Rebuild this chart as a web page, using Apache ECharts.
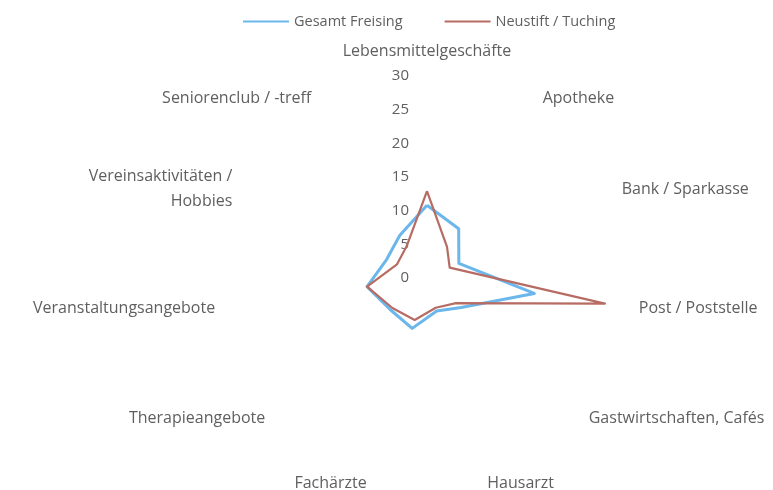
<!DOCTYPE html>
<html>
<head>
<meta charset="utf-8">
<script src="https://cdn.jsdelivr.net/npm/echarts@6/dist/echarts.min.js"></script>
<style>
  html, body { margin: 0; padding: 0; background: #fff; }
  #chart { width: 773px; height: 490px; }
</style>
</head>
<body>
<div id="chart"></div>
<script>
// Kategorien (im Uhrzeigersinn ab oben)
const categories = [
  'Lebensmittelgeschäfte',
  'Apotheke',
  'Bank / Sparkasse',
  'Post / Poststelle',
  'Gastwirtschaften, Cafés',
  'Hausarzt',
  'Fachärzte',
  'Therapieangebote',
  'Veranstaltungsangebote',
  'Vereinsaktivitäten /\nHobbies',
  'Seniorenclub / -treff'
]

// Werte
const gesamtFreising = [10.8, 8.7, 5.2, 16.1, 6.7, 5.1, 7.8, 7.2, 9.0, 6.6, 7.5]
const neustiftTuching = [12.9, 5.5, 3.7, 26.7, 5.7, 4.6, 6.5, 6.8, 9.0, 4.9, 5.6]

const axisMax = 30
const axisSplit = 6

const textColor = '#5f5f5f'
const fontFamily = '"Open Sans", sans-serif'

// ECharts zeichnet Radar gegen den Uhrzeigersinn -> Reihenfolge umdrehen (erste bleibt oben)
const clockwise = arr => [arr[0]].concat(arr.slice(1).reverse())

const chart = echarts.init(document.getElementById('chart'), null, { renderer: 'canvas' })

// nur die erste Achse beschriften
const indicators = clockwise(categories).map((name, i) => {
  const ind = { name: name, min: 0, max: axisMax }
  if (i > 0) ind.axisLabel = { show: false }
  return ind
})

chart.setOption({
  animation: false,
  backgroundColor: '#fff',
  legend: {
    top: 9,
    left: 238,
    itemWidth: 46,
    itemHeight: 2,
    itemGap: 42,
    icon: 'rect',
    textStyle: { color: textColor, fontSize: 14.5, fontFamily: fontFamily },
    data: ['Gesamt Freising', 'Neustift / Tuching']
  },
  radar: {
    center: [427, 278],
    radius: 202,
    startAngle: 90,
    splitNumber: axisSplit,
    shape: 'polygon',
    axisNameGap: 12,
    axisName: { color: textColor, fontSize: 16, fontFamily: fontFamily, lineHeight: 25 },
    axisLine: { show: false },
    splitLine: { show: false },
    splitArea: { show: false },
    axisTick: { show: false },
    axisLabel: {
      show: true,
      color: textColor,
      fontSize: 15,
      fontFamily: fontFamily,
      margin: 18
    },
    indicator: indicators
  },
  series: [{
    type: 'radar',
    symbol: 'none',
    data: [
      {
        name: 'Gesamt Freising',
        value: clockwise(gesamtFreising),
        lineStyle: { color: '#6bb6ea', width: 3 },
        itemStyle: { color: '#6bb6ea' }
      },
      {
        name: 'Neustift / Tuching',
        value: clockwise(neustiftTuching),
        lineStyle: { color: '#b76c63', width: 2.2 },
        itemStyle: { color: '#b76c63' }
      }
    ]
  }]
})
</script>
</body>
</html>
